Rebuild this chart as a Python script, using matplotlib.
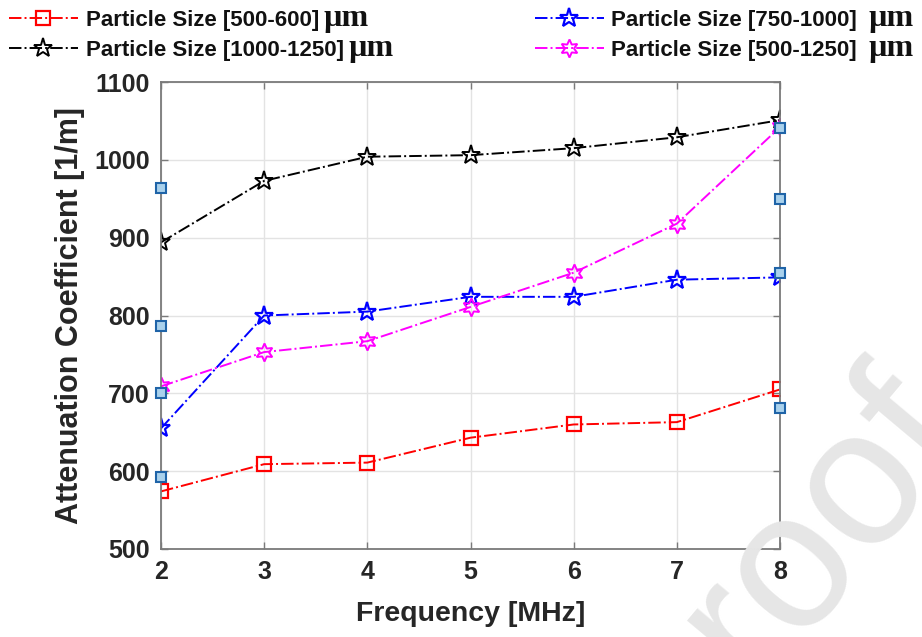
import matplotlib
matplotlib.use("Agg")
import matplotlib.pyplot as plt
from matplotlib import font_manager as fm

plt.rcParams['font.family'] = ['Liberation Sans', 'DejaVu Sans']

freq = [2, 3, 4, 5, 6, 7, 8]
size_500_600 = [574, 609, 611, 643, 660, 663, 705]
size_1000_1250 = [894, 973, 1004, 1006, 1015, 1029, 1051]
size_750_1000 = [655, 800, 805, 824, 824, 846, 849]
size_500_1250 = [709, 753, 767, 811, 855, 918, 1042]
tip_x = [2, 2, 2, 2, 8, 8, 8, 8]
tip_y = [964, 787, 701, 592, 1041, 950, 854, 681]

labels = ['Particle Size [500-600]',
          'Particle Size [1000-1250]',
          'Particle Size [750-1000] ',
          'Particle Size [500-1250] ']
unit = 'µm'
xticks = [2, 3, 4, 5, 6, 7, 8]
yticks = [500, 600, 700, 800, 900, 1000, 1100]

names = {f.name for f in fm.fontManager.ttflist}
if 'Liberation Sans Narrow' in names:
    leg_family, leg_size, colsp = 'Liberation Sans Narrow', 19, 8.1
else:
    leg_family, leg_size, colsp = 'Liberation Sans', 16, 8.6

fig = plt.figure(figsize=(9.22, 6.37), dpi=100)

# watermark
fig.text(822/922, 1 - 526/637, 'roof', fontsize=140, color='#e6e6e6', rotation=50,
         ha='center', va='center', zorder=0, family='Liberation Sans')

ax = fig.add_axes([161/922, 1 - 549/637, (780 - 161)/922, (549 - 82)/637])
ax.set_facecolor('none')

lw = 1.4
h1, = ax.plot(freq, size_500_600, '-.', color='#ff0000', lw=lw, marker='s', ms=10,
              mfc='none', mec='#ff0000', mew=1.6)
h2, = ax.plot(freq, size_1000_1250, '-.', color='black', lw=lw, marker='*', ms=14,
              mfc='none', mec='black', mew=1.4)
h3, = ax.plot(freq, size_750_1000, '-.', color='#0000ff', lw=lw, marker='*', ms=14,
              mfc='none', mec='#0000ff', mew=1.6)
h4, = ax.plot(freq, size_500_1250, '-.', color='#ff00ff', lw=lw, marker=(6, 1, 0), ms=13,
              mfc='none', mec='#ff00ff', mew=1.4)
ax.plot(tip_x, tip_y, ls='none', marker='s', ms=7, mfc='#a9d1ec', mec='#1f64a8', mew=1.5,
        zorder=5, clip_on=False)

ax.set_xlim(2, 8)
ax.set_ylim(500, 1100)
ax.set_xticks(xticks)
ax.set_yticks(yticks)
ax.grid(True, color='#e3e3e3', lw=1)
ax.set_axisbelow(True)
for s in ax.spines.values():
    s.set_color('#7a7a7a')
    s.set_linewidth(1.3)
ax.tick_params(direction='in', length=5, width=1, color='#7a7a7a', top=True, right=True,
               labelsize=18, labelcolor='#262626', pad=8)
for t in ax.get_xticklabels() + ax.get_yticklabels():
    t.set_fontweight('bold')
ax.set_xlabel('Frequency [MHz]', fontsize=20.5, fontweight='bold', color='#262626', labelpad=12)
ax.set_ylabel('Attenuation Coefficient [1/m]', fontsize=22, fontweight='bold', color='#262626',
              labelpad=7)

leg = fig.legend([h1, h2, h3, h4], labels, loc='upper left', bbox_to_anchor=(-0.012, 1.016),
                 ncol=2, frameon=False, handlelength=3.1, handletextpad=0.35,
                 columnspacing=colsp, labelspacing=0.42,
                 prop={'family': leg_family, 'weight': 'bold', 'size': leg_size})
for t in leg.get_texts():
    t.set_color('#111111')

# units in a serif face after each legend label
fig.canvas.draw()
renderer = fig.canvas.get_renderer()
for t in leg.get_texts():
    bb = t.get_window_extent(renderer)
    _, _, d = renderer.get_text_width_height_descent(t.get_text(), t.get_fontproperties(),
                                                     ismath=False)
    base = bb.y0 + d
    fig.text((bb.x1 + 5) / fig.bbox.width, base / fig.bbox.height, unit,
             family='Liberation Serif', weight='bold', fontsize=23, color='#111111',
             ha='left', va='baseline')

fig.savefig('out.png', dpi=100)
